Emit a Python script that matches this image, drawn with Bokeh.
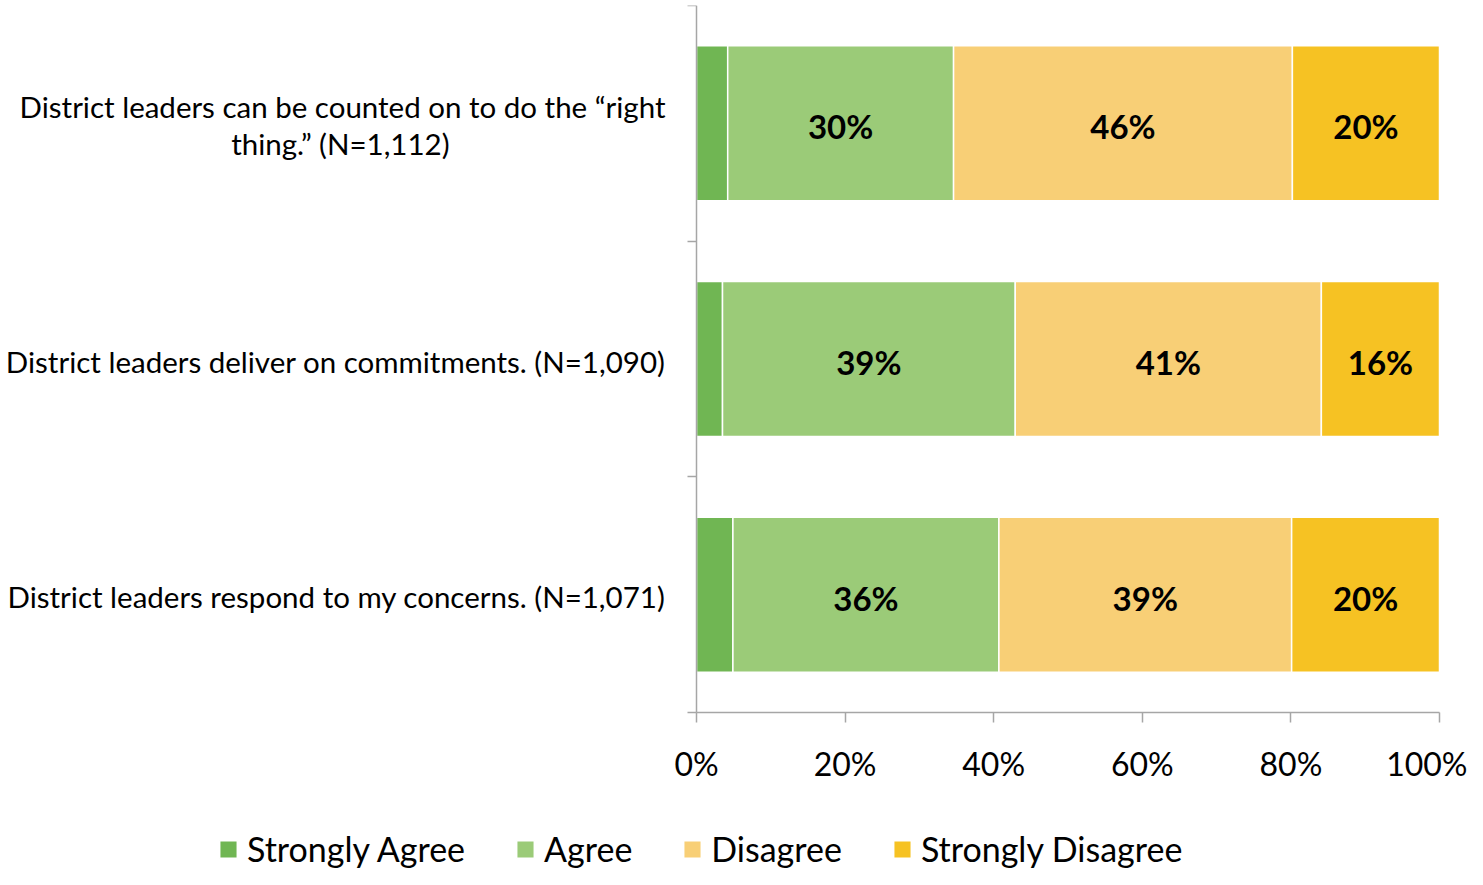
from bokeh.plotting import figure
from bokeh.models import (ColumnDataSource, FixedTicker, PrintfTickFormatter,
                          Legend, LegendItem, Range1d)
from bokeh.embed import file_html
from bokeh.resources import INLINE
from bokeh.core.properties import value

# ---------------- data ----------------
categories = [
    "District leaders can be counted on to do the \u201cright\nthing.\u201d (N=1,112)",
    "District leaders deliver on commitments. (N=1,090)",
    "District leaders respond to my concerns. (N=1,071)",
]
series = ["Strongly Agree", "Agree", "Disagree", "Strongly Disagree"]
strongly_agree = [4.2, 3.5, 4.9]
agree = [30.4, 39.4, 35.8]
disagree = [45.6, 41.2, 39.4]
strongly_disagree = [19.8, 15.9, 19.9]
labelled_series = ["Agree", "Disagree", "Strongly Disagree"]
x_ticks = [0, 20, 40, 60, 80, 100]

colors = ["#70B653", "#9BCB78", "#F8CF76", "#F6C223"]
FONT = "Lato"
GRAY = "#A6A6A6"

# ---------------- geometry (pixels) ----------------
W, H = 1467, 869
TOP = 5            # top of the category axis
PLOT_LEFT = 696    # pixel of 0 %
PLOT_RIGHT = 1439  # pixel of 100 %
AXIS_Y = 712       # pixel of the x axis
n = len(categories)
px_per_x = (PLOT_RIGHT - PLOT_LEFT) / 100.0
px_per_y = (AXIS_Y - TOP) / n
x_lo = -PLOT_LEFT / px_per_x
x_hi = 100 + (W - PLOT_RIGHT) / px_per_x
y_lo = -(H - AXIS_Y) / px_per_y

ypos = [n - i - 0.5 for i in range(n)]
data = {"y": ypos, "Strongly Agree": strongly_agree, "Agree": agree,
        "Disagree": disagree, "Strongly Disagree": strongly_disagree}
source = ColumnDataSource(data)

p = figure(width=W, height=H, output_backend="svg", toolbar_location=None,
           x_range=Range1d(x_lo, x_hi), y_range=Range1d(y_lo, n),
           min_border_left=0, min_border_right=0, min_border_top=TOP,
           min_border_bottom=0)
p.outline_line_color = None
p.xgrid.visible = False
p.ygrid.visible = False

renderers = p.hbar_stack(series, y="y", height=0.658, color=colors, source=source,
                         line_color="white", line_width=1.5)

# value labels
lx, ly, lt = [], [], []
for i in range(n):
    start = 0.0
    for s in series:
        v = data[s][i]
        if s in labelled_series:
            lx.append(start + v / 2)
            ly.append(ypos[i])
            lt.append(f"{round(v)}%")
        start += v
p.text(x=lx, y=ly, text=lt, text_align="center", text_baseline="middle",
       y_offset=3, text_font=value(FONT), text_font_style="bold",
       text_font_size="33px", text_color="black")

# category labels (right aligned; wrapped lines centred under the first line)
LINE_H = 37 / px_per_y
label_right = -31 / px_per_x
r_x, r_y, r_t, c_x, c_y, c_t = [], [], [], [], [], []
for i, cat in enumerate(categories):
    lines = cat.split("\n")
    m = len(lines)
    for k, ln in enumerate(lines):
        yy = ypos[i] + ((m - 1) / 2 - k) * LINE_H
        if k == 0:
            r_x.append(label_right); r_y.append(yy); r_t.append(ln)
        else:
            c_x.append(label_right - 325 / px_per_x); c_y.append(yy); c_t.append(ln)
p.text(x=r_x, y=r_y, text=r_t, text_align="right", text_baseline="middle",
       y_offset=2, text_font=value(FONT), text_font_size="29.5px", text_color="black")
p.text(x=c_x, y=c_y, text=c_t, text_align="center", text_baseline="middle",
       y_offset=2, text_font=value(FONT), text_font_size="29.5px", text_color="black")

# x axis
xa = p.xaxis[0]
xa.fixed_location = 0
xa.bounds = (0, 100)
xa.ticker = FixedTicker(ticks=x_ticks)
xa.formatter = PrintfTickFormatter(format="%d%%")
xa.major_label_text_font = FONT
xa.major_label_text_font_size = "32px"
xa.major_label_text_color = "black"
xa.axis_line_color = GRAY
xa.axis_line_width = 1.5
xa.major_tick_line_color = GRAY
xa.major_tick_line_width = 1.5
xa.major_tick_out = 10
xa.major_tick_in = 0
xa.minor_tick_line_color = None
xa.major_label_standoff = 21

# y axis with boundary ticks
ya = p.yaxis[0]
ya.fixed_location = 0
ya.bounds = (0, n)
ya.ticker = FixedTicker(ticks=list(range(n + 1)))
ya.major_label_text_color = None
ya.major_label_text_font_size = "1px"
ya.major_label_standoff = 0
ya.axis_line_color = GRAY
ya.axis_line_width = 1.5
ya.major_tick_line_color = GRAY
ya.major_tick_line_width = 1.5
ya.major_tick_out = 9
ya.major_tick_in = 0
ya.minor_tick_line_color = None

legend = Legend(items=[LegendItem(label=s, renderers=[r]) for s, r in zip(series, renderers)],
                orientation="horizontal", location=(217, 0),
                glyph_width=22, glyph_height=22, label_standoff=8, spacing=49,
                padding=0, margin=0, border_line_color=None, background_fill_alpha=0,
                label_text_font=FONT, label_text_font_size="34px",
                label_text_color="black")
p.add_layout(legend)

open("out.html", "w").write(file_html(p, INLINE))
